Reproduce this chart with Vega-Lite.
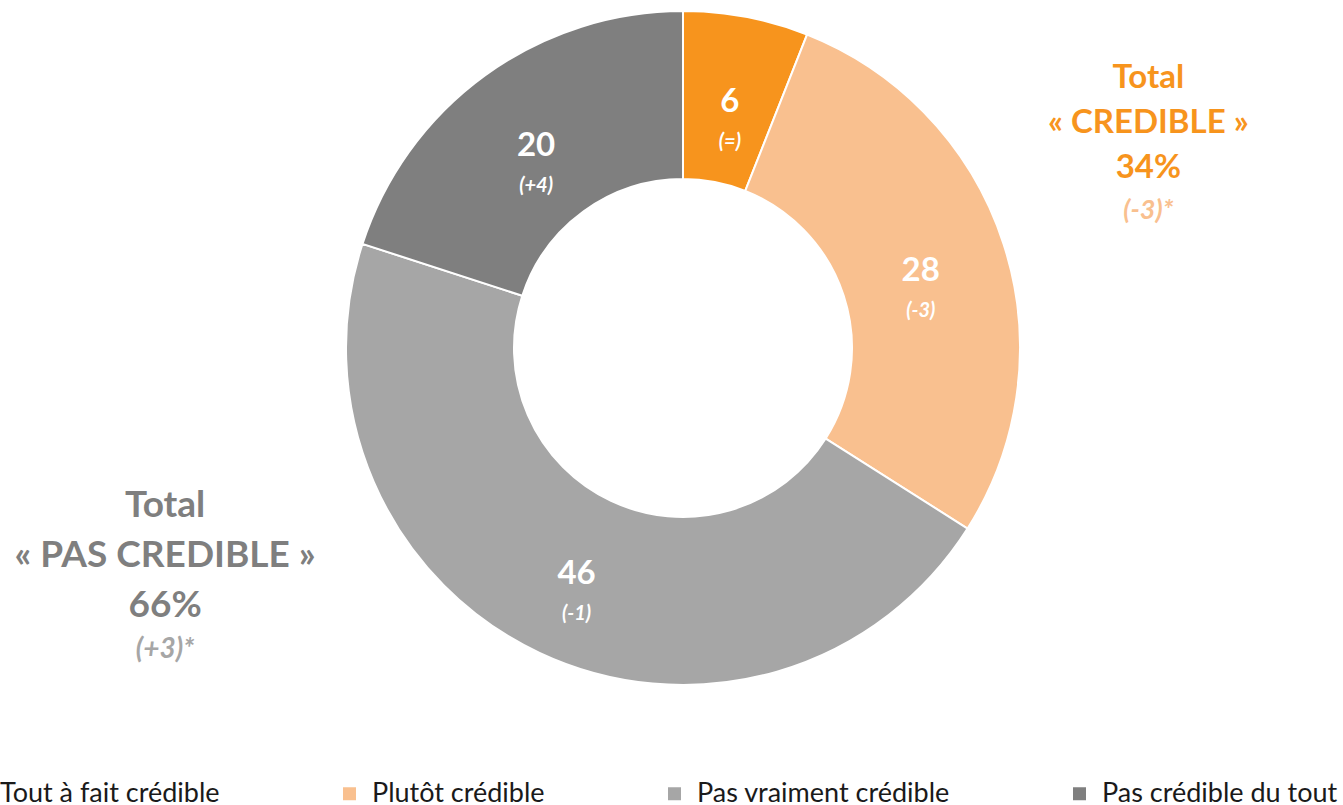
{
  "$schema": "https://vega.github.io/schema/vega-lite/v6.json",
  "width": 1320,
  "height": 696,
  "autosize": {"type": "none"},
  "padding": {"left": 23, "top": 0, "right": 0, "bottom": 109},
  "background": "white",
  "config": {"view": {"stroke": null}, "font": "Lato"},
  "datasets": {
    "slices": [
      {"cat": "Tout à fait crédible", "value": 6, "idx": 1, "label": "6", "delta": "(=)"},
      {"cat": "Plutôt crédible", "value": 28, "idx": 2, "label": "28", "delta": "(-3)"},
      {"cat": "Pas vraiment crédible", "value": 46, "idx": 3, "label": "46", "delta": "(-1)"},
      {"cat": "Pas crédible du tout", "value": 20, "idx": 4, "label": "20", "delta": "(+4)"}
    ],
    "totals": [
      {"group": "credible", "total": 34, "idx": 1, "title": "Total\n« CREDIBLE »\n34%", "delta": "(-3)*"},
      {"group": "pas", "total": 66, "idx": 2, "title": "Total\n« PAS CREDIBLE »\n66%", "delta": "(+3)*"}
    ]
  },
  "layer": [
    {
      "data": {"name": "slices"},
      "mark": {"type": "arc", "outerRadius": 337, "innerRadius": 169, "stroke": "white", "strokeWidth": 2},
      "encoding": {
        "theta": {"field": "value", "type": "quantitative", "stack": true},
        "order": {"field": "idx", "type": "quantitative"},
        "color": {
          "field": "cat",
          "type": "nominal",
          "sort": ["Tout à fait crédible", "Plutôt crédible", "Pas vraiment crédible", "Pas crédible du tout"],
          "scale": {
            "domain": ["Tout à fait crédible", "Plutôt crédible", "Pas vraiment crédible", "Pas crédible du tout"],
            "range": ["#F7941D", "#F9C08F", "#A6A6A6", "#7F7F7F"]
          },
          "legend": {
            "title": null,
            "orient": "none",
            "legendX": -59,
            "legendY": 780,
            "direction": "horizontal",
            "columns": 4,
            "columnPadding": 116,
            "symbolType": "square",
            "symbolSize": 169,
            "symbolStrokeWidth": 0,
            "labelFontSize": 27,
            "labelFont": "Lato",
            "labelColor": "#1a1a1a",
            "labelOffset": 9,
            "labelLimit": 600
          }
        }
      }
    },
    {
      "data": {"name": "slices"},
      "mark": {"type": "text", "radius": 250, "fontSize": 33, "fontWeight": "bold", "fill": "white", "baseline": "middle", "align": "center"},
      "encoding": {
        "theta": {"field": "value", "type": "quantitative", "stack": true},
        "order": {"field": "idx", "type": "quantitative"},
        "detail": {"field": "cat", "type": "nominal"},
        "text": {"field": "label"}
      }
    },
    {
      "data": {"name": "slices"},
      "mark": {"type": "text", "radius": 250, "dy": 40, "fontSize": 20, "fontWeight": "bold", "fontStyle": "italic", "fill": "white", "baseline": "middle", "align": "center"},
      "encoding": {
        "theta": {"field": "value", "type": "quantitative", "stack": true},
        "order": {"field": "idx", "type": "quantitative"},
        "detail": {"field": "cat", "type": "nominal"},
        "text": {"field": "delta"}
      }
    },
    {
      "data": {"name": "totals"},
      "mark": {"type": "text", "radius": 531, "dy": -14, "fontSize": 33, "fontWeight": "bold", "fill": "#F7941D", "baseline": "middle", "align": "center", "lineBreak": "\n", "lineHeight": 45},
      "encoding": {
        "theta": {"field": "total", "type": "quantitative", "stack": true},
        "order": {"field": "idx", "type": "quantitative"},
        "detail": {"field": "group", "type": "nominal"},
        "text": {"condition": {"test": "datum.group === 'credible'", "field": "title"}, "value": ""}
      }
    },
    {
      "data": {"name": "totals"},
      "mark": {"type": "text", "radius": 531, "dy": 119, "fontSize": 27, "fontWeight": "bold", "fontStyle": "italic", "fill": "#F9C08F", "baseline": "middle", "align": "center"},
      "encoding": {
        "theta": {"field": "total", "type": "quantitative", "stack": true},
        "order": {"field": "idx", "type": "quantitative"},
        "detail": {"field": "group", "type": "nominal"},
        "text": {"condition": {"test": "datum.group === 'credible'", "field": "delta"}, "value": ""}
      }
    },
    {
      "data": {"name": "totals"},
      "mark": {"type": "text", "radius": 591, "dy": -127, "fontSize": 37, "fontWeight": "bold", "fill": "#7F7F7F", "baseline": "middle", "align": "center", "lineBreak": "\n", "lineHeight": 50},
      "encoding": {
        "theta": {"field": "total", "type": "quantitative", "stack": true},
        "order": {"field": "idx", "type": "quantitative"},
        "detail": {"field": "group", "type": "nominal"},
        "text": {"condition": {"test": "datum.group === 'pas'", "field": "title"}, "value": ""}
      }
    },
    {
      "data": {"name": "totals"},
      "mark": {"type": "text", "radius": 591, "dy": 17, "fontSize": 28, "fontWeight": "bold", "fontStyle": "italic", "fill": "#A6A6A6", "baseline": "middle", "align": "center"},
      "encoding": {
        "theta": {"field": "total", "type": "quantitative", "stack": true},
        "order": {"field": "idx", "type": "quantitative"},
        "detail": {"field": "group", "type": "nominal"},
        "text": {"condition": {"test": "datum.group === 'pas'", "field": "delta"}, "value": ""}
      }
    }
  ]
}
